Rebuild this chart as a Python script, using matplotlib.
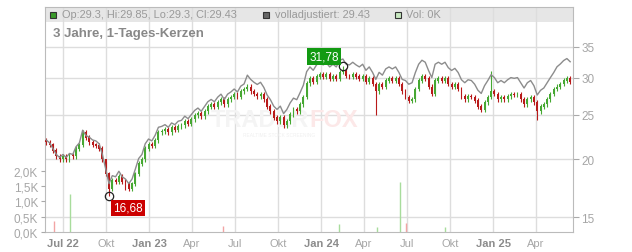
import matplotlib
matplotlib.use("Agg")
import matplotlib.pyplot as plt
import matplotlib.dates as mdates
from matplotlib.patches import Rectangle
import numpy as np
import pandas as pd

plt.rcParams['font.family'] = ['Liberation Sans', 'DejaVu Sans']

dates = pd.date_range('2022-05-27', periods=160, freq='7D')
closes = [21.8, 21.5, 20.9, 20.3, 20.0, 20.3, 20.0, 20.4, 20.3, 21.1,
          21.5, 22.9, 22.3, 21.8, 21.5, 21.4, 21.1, 20.0, 18.6, 17.3,
          18.0, 17.9, 18.4, 17.9, 17.7, 17.3, 17.7, 18.6, 19.6, 20.0,
          21.1, 21.6, 21.4, 22.0, 22.9, 23.0, 23.2, 22.9, 23.4, 23.2,
          23.6, 23.7, 24.2, 23.9, 24.4, 24.9, 25.2, 24.8, 25.4, 26.0,
          26.3, 26.0, 26.6, 27.0, 26.3, 27.0, 27.3, 27.7, 27.3, 28.1,
          28.4, 28.7, 28.1, 27.7, 27.4, 27.7, 27.0, 26.0, 25.4, 24.6,
          24.2, 24.6, 23.7, 24.2, 25.0, 25.6, 25.4, 26.3, 27.3, 29.2,
          29.9, 29.4, 30.2, 30.6, 30.2, 30.5, 29.9, 30.3, 29.9, 30.9,
          31.1, 30.3, 30.2, 30.6, 30.2, 29.9, 30.3, 29.4, 29.9, 29.1,
          28.1, 29.1, 28.7, 29.6, 29.9, 29.6, 29.9, 29.1, 28.1, 27.3,
          26.8, 27.0, 28.4, 29.6, 30.2, 29.9, 28.7, 27.7, 29.6, 29.9,
          29.6, 29.9, 29.1, 28.7, 29.0, 28.4, 27.4, 27.0, 27.4, 27.3,
          26.8, 26.0, 25.6, 26.6, 27.3, 28.1, 27.7, 27.0, 27.3, 27.0,
          27.4, 27.7, 27.6, 27.7, 27.0, 26.3, 27.0, 27.3, 26.6, 25.4,
          26.0, 26.3, 27.0, 27.7, 28.4, 28.7, 29.1, 29.6, 29.9, 29.43]
first_open = 22.0
# notable extremes (index -> value)
low_marks = {19: 16.68, 100: 25.0, 149: 24.3, 24: 17.2}
high_marks = {90: 31.78, 135: 31.0, 18: 19.8}

# total-return adjustment steps for the grey "volladjustiert" line
adj_dates = ['2022-05-27', '2022-08-20', '2023-07-25', '2024-06-25', '2025-05-10']
adj_factor = [1.01, 1.025, 1.06, 1.085, 1.105]

# volume spikes (K)
vol_dates = ['2022-06-12', '2022-07-16', '2023-06-06', '2024-02-07',
             '2024-04-28', '2024-06-16', '2024-06-29', '2024-09-20']
vol_values = [0.36, 1.25, 0.2, 0.27, 0.17, 1.63, 0.3, 0.17]
vol_up = [False, True, False, True, True, True, False, True]

price_ticks = [15, 20, 25, 30, 35]
vol_ticks = [0.0, 0.5, 1.0, 1.5, 2.0]

closes = np.array(closes)
opens = np.r_[first_open, closes[:-1]]
highs = np.maximum(opens, closes) * 1.012
lows = np.minimum(opens, closes) * 0.988
for i, v in low_marks.items():
    lows[i] = v
for i, v in high_marks.items():
    highs[i] = v

idx = np.searchsorted(pd.to_datetime(adj_dates).values, dates.values, side='right') - 1
adjusted = closes * np.array(adj_factor)[idx]

W, H = 632, 253
fig = plt.figure(figsize=(W / 100, H / 100), dpi=100)
L, R, T, B = 45, 573, 8, 233
ax = fig.add_axes([L / W, 1 - B / H, (R - L) / W, (B - T) / H])
vax = ax.twinx()
ax.set_yscale('log')
ax.set_ylim(13.94, 42.7)
x0, x1 = pd.Timestamp('2022-05-24'), pd.Timestamp('2025-06-19')
ax.set_xlim(x0, x1)

up_c, dn_c = '#46a832', '#b81a1a'
xs = mdates.date2num(dates)
up = closes >= opens
colors = np.where(up, up_c, dn_c)
ax.vlines(xs, lows, highs, colors=colors, lw=0.8, zorder=3)
ax.bar(xs, np.abs(closes - opens) + 0.05, bottom=np.minimum(opens, closes),
       width=4.0, color=colors, zorder=3, linewidth=0)
ax.plot(xs, adjusted, color='#8c8c8c', lw=1.0, zorder=4)

# grid
ax.set_axisbelow(True)
qticks = pd.date_range('2022-07-01', '2025-04-01', freq='QS')
ax.set_xticks(mdates.date2num(qticks))
labels = []
for d in qticks:
    m = {1: 'Jan', 4: 'Apr', 7: 'Jul', 10: 'Okt'}[d.month]
    labels.append(f"{m} {d.strftime('%y')}" if (d.month == 1 or d == qticks[0]) else m)
ax.set_xticklabels(labels)
for lab, d in zip(ax.get_xticklabels(), qticks):
    if d.month == 1 or d == qticks[0]:
        lab.set_fontweight('bold')
        lab.set_color('#8c8c8c')
    else:
        lab.set_color('#a6a6a6')
ax.tick_params(axis='x', length=0, labelsize=8, pad=4)
ax.yaxis.tick_right()
ax.set_yticks(price_ticks)
ax.set_yticklabels([str(t) for t in price_ticks])
ax.yaxis.set_minor_locator(matplotlib.ticker.NullLocator())
ax.tick_params(axis='y', which='major', length=4, color='#aaaaaa',
               labelcolor='#a6a6a6', labelsize=8.5, pad=2)
ax.grid(True, color='#dddddd', lw=1)
for s in ax.spines.values():
    s.set_color('#bbbbbb')

# header band
ax.add_patch(Rectangle((0, 1 - 15 / 225), 1, 15 / 225, transform=ax.transAxes,
                       facecolor='#e6e6e6', edgecolor='none', zorder=0.4))

# watermark
ax.text(0.5, 0.50, 'TRADER', transform=ax.transAxes, ha='right', va='center',
        fontsize=17, fontweight='bold', color='#f4f4f4', zorder=1)
ax.text(0.5, 0.50, 'FOX', transform=ax.transAxes, ha='left', va='center',
        fontsize=17, fontweight='bold', color='#fce8e8', zorder=1)
ax.text(0.375, 0.435, 'REALTIME STOCK SCREENING', transform=ax.transAxes, ha='left',
        va='center', fontsize=3.5, color='#f0f0f0', zorder=1)

# volume axis
vax.set_ylim(0, 7.35)
vc = ['#a8dc9c' if u else '#f2a4a4' for u in vol_up]
vax.vlines(mdates.date2num(pd.to_datetime(vol_dates)), 0, vol_values, colors=vc, lw=1)
vax.yaxis.tick_left()
vax.set_yticks(vol_ticks)
vax.set_yticklabels([f"{v:.1f}K".replace('.', ',') for v in vol_ticks])
vax.tick_params(axis='y', length=3, color='#aaaaaa', labelcolor='#a6a6a6',
                labelsize=8.5, pad=2)
for s in vax.spines.values():
    s.set_visible(False)

# extreme markers
box = dict(boxstyle='square,pad=0.2', lw=0)
ax.plot(xs[90], 31.78, 'o', ms=6, mfc='none', mec='#222222', mew=0.9, zorder=6)
ax.annotate('31,78', (xs[90], 31.78), xytext=(-19, 10), textcoords='offset pixels',
            ha='center', va='center', color='white', fontsize=8.5,
            bbox=dict(box, fc='#129a12'), zorder=7)
ax.plot(xs[19], 16.68, 'o', ms=6, mfc='none', mec='#222222', mew=0.9, zorder=6)
ax.annotate('16,68', (xs[19], 16.68), xytext=(19, -12), textcoords='offset pixels',
            ha='center', va='center', color='white', fontsize=8.5,
            bbox=dict(box, fc='#cc0000'), zorder=7)

# header legend
def fy(y):
    return 1 - y / H

def square(x, color):
    fig.add_artist(Rectangle((x / W, fy(19)), 6 / W, 6 / H, transform=fig.transFigure,
                             facecolor=color, edgecolor='#333333', lw=0.8))

square(50, '#3a9a2a')
fig.text(62 / W, fy(15.5), 'Op:29.3, Hi:29.85, Lo:29.3, Cl:29.43', fontsize=7.9,
         color='#999999', va='center')
square(263, '#666666')
fig.text(275 / W, fy(15.5), 'volladjustiert: 29.43', fontsize=7.9, color='#999999',
         va='center')
square(395, '#c8e8c0')
fig.text(406 / W, fy(15.5), 'Vol: 0K', fontsize=7.9, color='#999999', va='center')
fig.text(53 / W, fy(34), '3 Jahre, 1-Tages-Kerzen', fontsize=9.5, fontweight='bold',
         color='#888888', va='center')

fig.savefig('out.png', dpi=100)
